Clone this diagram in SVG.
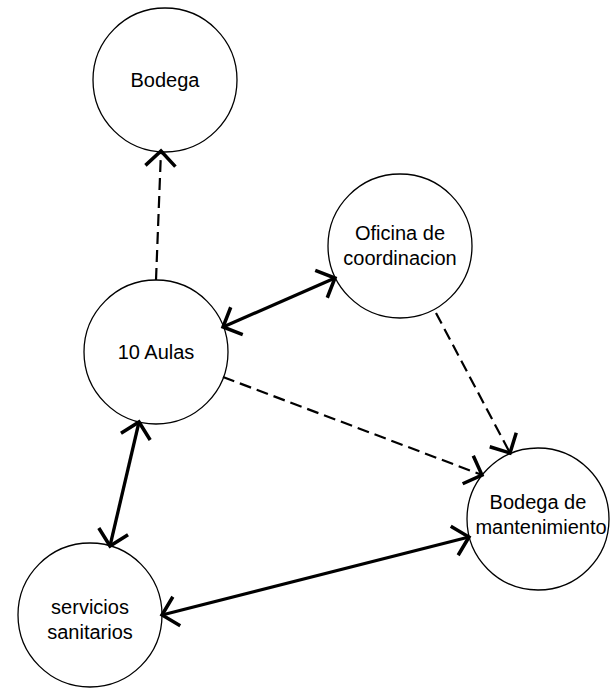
<svg xmlns="http://www.w3.org/2000/svg" width="615" height="689" viewBox="0 0 615 689">
<style>
.node circle{fill:#fff;stroke:#000;stroke-width:1.3}
.node text{font-family:"Liberation Sans",Arial,sans-serif;font-size:20px;fill:#000;text-anchor:middle}
.solid{stroke:#000;stroke-width:3.3;fill:none}
.dash{stroke:#000;stroke-width:2.2;fill:none;stroke-dasharray:12 6}
</style>
<defs>
<marker id="ah" markerUnits="userSpaceOnUse" viewBox="-20 -20 24 40" markerWidth="24" markerHeight="40" refX="0" refY="0" orient="auto-start-reverse">
<path d="M-15,-15 L0,0 L-15,15" fill="none" stroke="#000" stroke-width="3.5"/>
</marker>
</defs>
<rect width="615" height="689" fill="#fff"/>
<g id="n-bodega" class="node"><circle cx="165" cy="80" r="72"/><text x="165" y="87">Bodega</text></g>
<g id="n-aulas" class="node"><circle cx="156" cy="352" r="72"/><text x="156" y="359">10 Aulas</text></g>
<g id="n-oficina" class="node"><circle cx="400" cy="246" r="72"/><text x="400" y="240">Oficina de</text><text x="400" y="265">coordinacion</text></g>
<g id="n-mant" class="node"><circle cx="538" cy="519" r="71"/><text x="538" y="509">Bodega de</text><text x="541" y="534">mantenimiento</text></g>
<g id="n-serv" class="node"><circle cx="90" cy="615" r="72"/><text x="90" y="614">servicios</text><text x="90" y="639">sanitarios</text></g>
<g id="connectors">
<line class="dash" x1="156" y1="280" x2="161" y2="151" marker-end="url(#ah)"/>
<line class="solid" x1="223" y1="327" x2="335" y2="278" marker-start="url(#ah)" marker-end="url(#ah)"/>
<line class="dash" x1="223" y1="377" x2="482" y2="475" marker-end="url(#ah)"/>
<line class="dash" x1="436" y1="313" x2="510" y2="453" marker-end="url(#ah)"/>
<line class="solid" x1="139" y1="422" x2="110" y2="546" marker-start="url(#ah)" marker-end="url(#ah)"/>
<line class="solid" x1="162" y1="615" x2="469" y2="537" marker-start="url(#ah)" marker-end="url(#ah)"/>
</g>
</svg>
